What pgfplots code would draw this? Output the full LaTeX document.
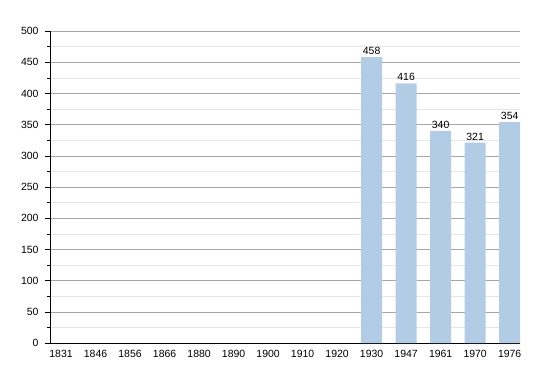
\documentclass[border=0pt]{standalone}
\usepackage{pgfplots}
\pgfplotsset{compat=1.18}
\usepackage{fontspec}
\setmainfont{Liberation Sans}
\definecolor{barblue}{HTML}{B3CCE6}
\begin{document}
\begin{tikzpicture}[x=1bp,y=1bp]
\useasboundingbox (0,0) rectangle (550,373);
\begin{axis}[
  at={(50bp,30bp)}, anchor=south west,
  scale only axis, width=470bp, height=312bp,
  xmin=-0.32, xmax=13.3, ymin=0, ymax=500,
  xtick={0,...,13},
  xticklabels={1831,1846,1856,1866,1880,1890,1900,1910,1920,1930,1947,1961,1970,1976},
  x tick style={draw=none},
  ytick={0,50,...,500},
  minor ytick={25,75,...,475},
  ymajorgrids, yminorgrids,
  major grid style={gray!70, line width=0.6pt},
  minor grid style={gray!20, line width=0.6pt},
  axis x line*=bottom, axis y line*=left,
  axis line style={black, line width=0.8pt, -},
  tick align=outside,
  major tick length=5bp, minor tick length=3bp,
  y tick style={black, line width=0.6pt},
  tick label style={font=\fontsize{10.5}{11}\selectfont, text=black},
  /pgf/number format/assume math mode=true,
  xticklabel style={yshift=1bp},
  yticklabel style={xshift=-3bp},
  clip=false,
]
\addplot[ybar, bar width=0.61, fill=barblue, draw=none,
  nodes near coords, every node near coord/.append style={font=\fontsize{10.5}{11}\selectfont, text=black, yshift=-1bp}]
  coordinates {(9,458) (10,416) (11,340) (12,321) (13,354)};
\end{axis}
\end{tikzpicture}
\end{document}
